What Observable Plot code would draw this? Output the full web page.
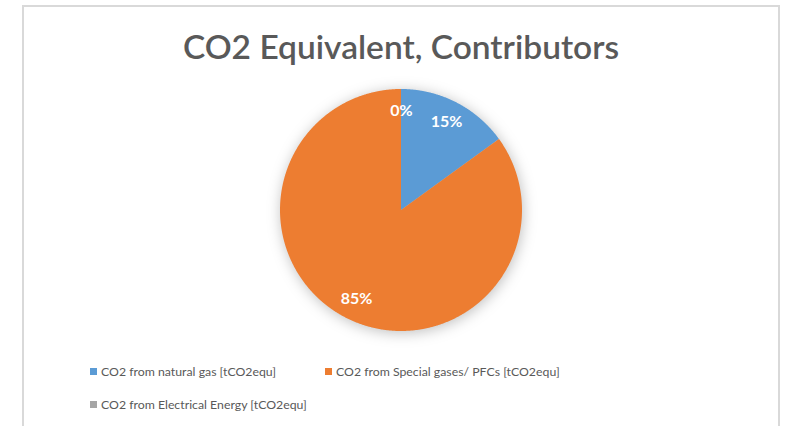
<!DOCTYPE html>
<html>
<head>
<meta charset="utf-8">
<script src="https://cdn.jsdelivr.net/npm/d3@7"></script>
<script src="https://cdn.jsdelivr.net/npm/@observablehq/plot@0.6"></script>
<style>
  html, body { margin: 0; padding: 0; background: #fff; }
  #wrap { position: relative; width: 787px; height: 426px; overflow: hidden; font-family: Lato, "Open Sans", sans-serif; }
  #frame { position: absolute; left: 22px; top: 5px; width: 758px; height: 440px; border: 2px solid #d9d9d9; box-sizing: border-box; }
  #chart { position: absolute; left: 0; top: 0; }
  #title { position: absolute; left: 0; width: 802px; top: 26px; line-height: 40px; text-align: center; font-size: 33.5px; color: #595959; font-weight: 600; }
  .leg { position: absolute; font-size: 12.3px; color: #595959; white-space: nowrap; line-height: 16px; }
  .leg i { display: inline-block; width: 7px; height: 7px; margin-right: 4px; vertical-align: 1px; }
</style>
</head>
<body>
<div id="wrap">
  <div id="frame"></div>
  <div id="chart"></div>
  <div id="title"></div>
</div>
<script>
const title = "CO2 Equivalent, Contributors";
const categories = [
  "CO2 from natural gas [tCO2equ]",
  "CO2 from Special gases/ PFCs [tCO2equ]",
  "CO2 from Electrical Energy [tCO2equ]"
];
const values = [15, 85, 0];
const percentLabels = ["15%", "85%", "0%"];
const colors = ["#5B9BD5", "#ED7D31", "#A5A5A5"];

// layout
const W = 787, H = 426, cx = 401, cy = 210, R = 121;

const arcs = d3.pie().sort(null).startAngle(0).endAngle(2 * Math.PI)(values)
  .map((a, i) => ({...a, cat: categories[i], label: percentLabels[i]}));

const pts = [];
for (const a of arcs) {
  const n = Math.max(2, Math.ceil((a.endAngle - a.startAngle) / 0.005));
  for (let k = 0; k <= n; k++) {
    const t = a.startAngle + (a.endAngle - a.startAngle) * k / n;
    pts.push({cat: a.cat, x: Math.sin(t), y: Math.cos(t)});
  }
}

const plot = Plot.plot({
  width: W, height: H,
  margin: 0,
  x: {domain: [-cx / R, (W - cx) / R], axis: null},
  y: {domain: [-(H - cy) / R, cy / R], axis: null},
  color: {domain: categories, range: colors},
  marks: [
    Plot.area(pts, {x1: d => 0, y1: d => 0, x2: "x", y2: "y", fill: "cat", z: "cat", curve: "linear"}),
    Plot.text(arcs, {
      x: d => 0.82 * Math.sin((d.startAngle + d.endAngle) / 2),
      y: d => 0.82 * Math.cos((d.startAngle + d.endAngle) / 2),
      text: "label", fill: "white", fontWeight: "bold", fontSize: 16,
      fontFamily: "Lato, sans-serif"
    })
  ]
});
const areaG = plot.querySelector('g[aria-label="area"]');
if (areaG) areaG.style.filter = "drop-shadow(1px 2px 7px rgba(0,0,0,0.25))";
document.getElementById("chart").appendChild(plot);
document.getElementById("title").textContent = title;

const legendPos = [[90, 364], [325, 364], [90, 397]];
const wrap = document.getElementById("wrap");
categories.forEach((c, i) => {
  const d = document.createElement("div");
  d.className = "leg";
  d.style.left = legendPos[i][0] + "px";
  d.style.top = legendPos[i][1] + "px";
  const sw = document.createElement("i");
  sw.style.background = colors[i];
  d.appendChild(sw);
  d.appendChild(document.createTextNode(c));
  wrap.appendChild(d);
});
</script>
</body>
</html>
